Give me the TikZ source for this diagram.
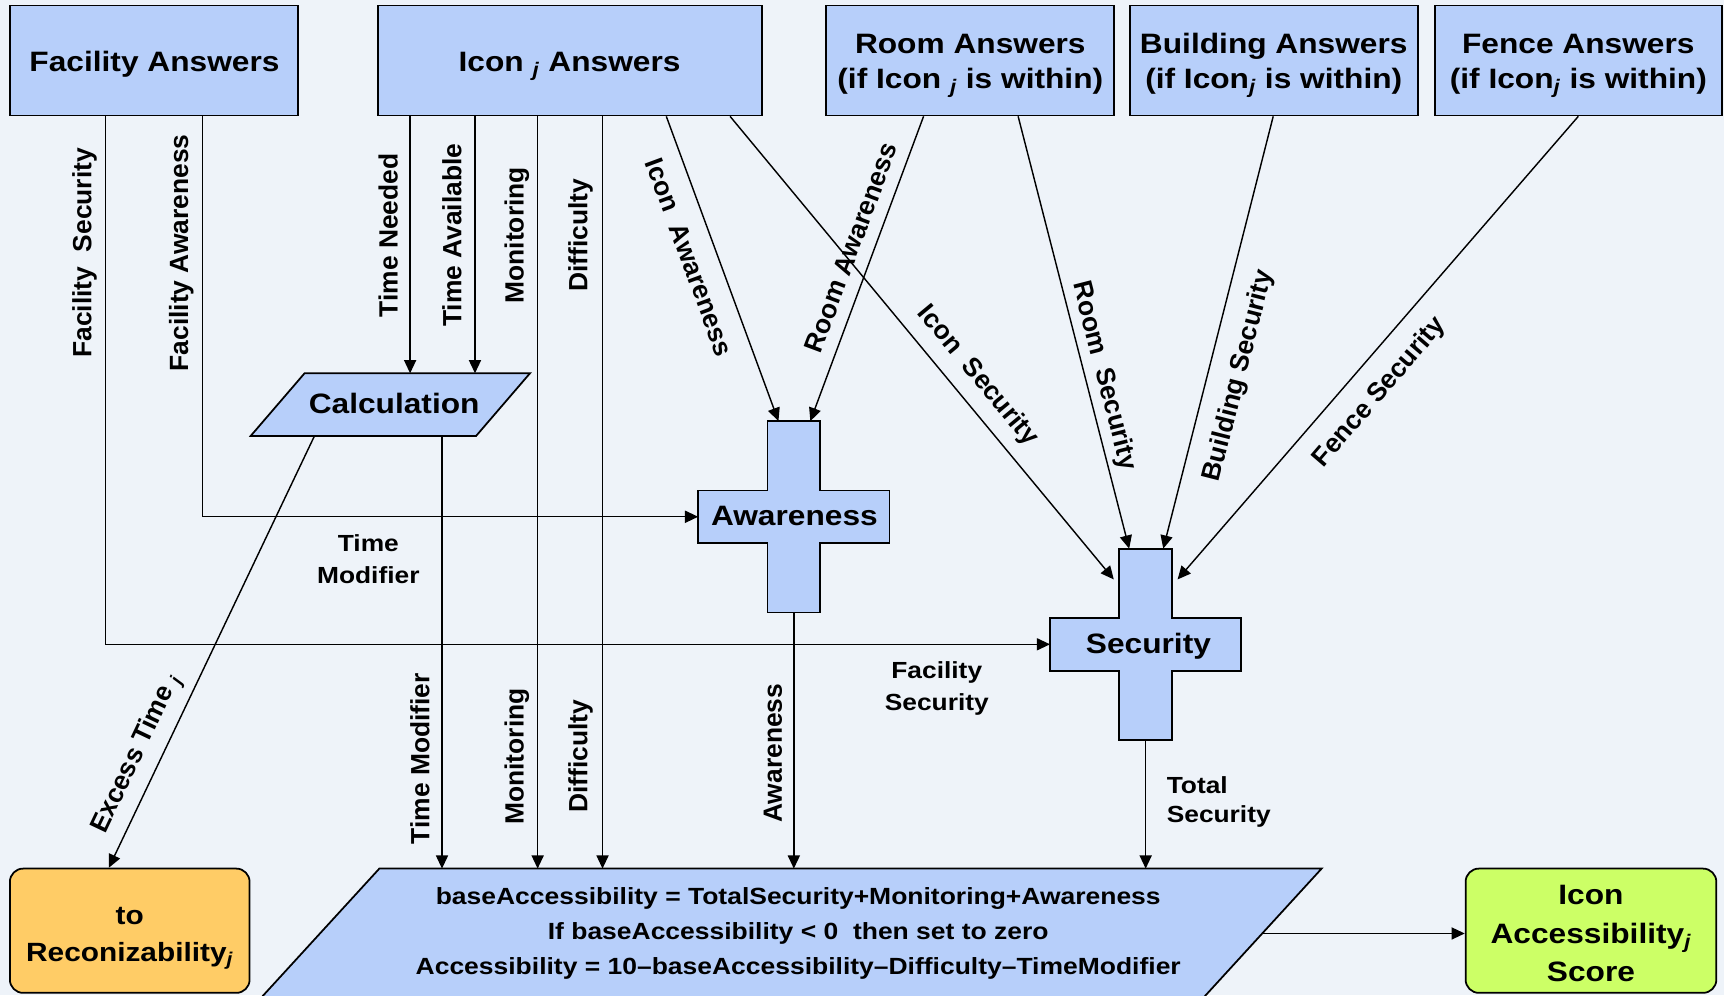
\documentclass[tikz,border=0pt]{standalone}
\usepackage{fontspec}
\setmainfont{Liberation Sans}
\newfontfamily\wide{Liberation Sans}[FakeStretch=1.13, Ligatures=TeX]
\usetikzlibrary{arrows.meta,calc}
\definecolor{boxblue}{RGB}{183,207,250}
\definecolor{recorange}{RGB}{255,204,102}
\definecolor{scoregreen}{RGB}{204,255,102}
\definecolor{bgcol}{RGB}{238,243,249}
\newcommand{\sj}{\textsubscript{\textit{j}}}
\newcommand{\ml}[1]{\begin{tabular}[t]{@{}c@{}}#1\end{tabular}}
\newcommand{\mlleft}[1]{\begin{tabular}[t]{@{}l@{}}#1\end{tabular}}
\newcommand{\drawcross}[2]{%
  \filldraw[fill=boxblue, line width=1.6pt, line join=miter]
    (#2.north west) -- (#2.north east) -- (#2.east |- #1.north) -- (#1.north east)
    -- (#1.south east) -- (#2.east |- #1.south) -- (#2.south east) -- (#2.south west)
    -- (#2.west |- #1.south) -- (#1.south west) -- (#1.north west) -- (#2.west |- #1.north) -- cycle;}
\tikzset{
  boxfont/.style={font=\wide\bfseries\fontsize{25.5}{32}\selectfont},
  boxtext/.style={boxfont, inner sep=0pt, anchor=base},
  hlbl/.style={font=\wide\bfseries\fontsize{21.2}{28.7}\selectfont, inner sep=0pt, anchor=base},
  lbl/.style={font=\bfseries\fontsize{24}{28}\selectfont, inner sep=0pt, align=center},
  topbox/.style={draw, line width=1.6pt, fill=boxblue, minimum height=100pt, inner sep=0pt},
  conn/.style={line width=1.3pt, -{Triangle[length=12pt,width=11pt]}},
  anchorbox/.style={inner sep=0pt, outer sep=0pt},
  endbox/.style={draw, line width=1.6pt, rounded corners=12pt, minimum height=113pt, inner sep=0pt},
  paraline/.style={fill=boxblue, line width=1.6pt, line join=miter},
}
\begin{document}
\begin{tikzpicture}[x=1pt,y=-1pt]
\useasboundingbox (0,0) rectangle (1568,905);
\clip (0,0) rectangle (1568,905);
\fill[bgcol] (0,0) rectangle (1568,905);

% x positions of vertical connectors
\coordinate (xFS) at (96,0);
\coordinate (xFA) at (184,0);
\coordinate (xTN) at (373,0);
\coordinate (xTA) at (432,0);
\coordinate (xMO) at (489,0);
\coordinate (xDI) at (548,0);
\coordinate (xTM) at (402,0);
\coordinate (xET) at (286,0);
\coordinate (xEE) at (99,0);

% top boxes
\node[topbox, minimum width=262pt] (fac) at (140,55) {};
\node[topbox, minimum width=349pt] (icon) at (518.5,55) {};
\node[topbox, minimum width=262pt] (room) at (882,55) {};
\node[topbox, minimum width=262pt] (bld) at (1159,55) {};
\node[topbox, minimum width=261pt] (fen) at (1435.5,55) {};

% calculation (parallelogram)
\node[anchorbox, minimum width=205pt, minimum height=57pt] (calc) at (379.5,368) {};
\filldraw[paraline] (calc.north west) -- (calc.north east) -- ([xshift=-49pt]calc.south east)
  -- ([xshift=-49pt]calc.south west) -- cycle;

% crosses
\node[anchorbox, minimum width=174pt, minimum height=48pt] (aw) at (722,470) {};
\node[anchorbox, minimum width=48pt, minimum height=174pt] (awv) at (722,470) {};
\drawcross{aw}{awv}
\node[anchorbox, minimum width=174pt, minimum height=48pt] (sec) at (1042,586) {};
\node[anchorbox, minimum width=48pt, minimum height=174pt] (secv) at (1042,586) {};
\drawcross{sec}{secv}

% bottom formula box (parallelogram, runs off the bottom edge)
\node[anchorbox, minimum width=857pt, minimum height=118pt] (bot) at (773.5,849) {};
\filldraw[paraline] (bot.north west) -- (bot.north east) -- ([xshift=-108pt]bot.south east)
  -- ([xshift=-108pt]bot.south west) -- cycle;

% end boxes
\node[endbox, fill=recorange, minimum width=218pt] (rec) at (118,846.5) {};
\node[endbox, fill=scoregreen, minimum width=228pt] (score) at (1447,846.5) {};

% connectors
\draw[conn] (fac.south -| xFS) |- (sec.west);
\draw[conn] (fac.south -| xFA) |- (aw.west);
\draw[conn] (icon.south -| xTN) -- (calc.north -| xTN);
\draw[conn] (icon.south -| xTA) -- (calc.north -| xTA);
\draw[conn] (icon.south -| xMO) -- (bot.north -| xMO);
\draw[conn] (icon.south -| xDI) -- (bot.north -| xDI);
\draw[conn] ([xshift=87.5pt]icon.south) -- ([xshift=-14pt]awv.north);
\draw[conn] ([xshift=145.5pt]icon.south) -- ([xshift=-5pt,yshift=-28pt]secv.north west);
\draw[conn] ([xshift=-42pt]room.south) -- ([xshift=15pt]awv.north);
\draw[conn] ([xshift=44pt]room.south) -- ([xshift=-15pt]secv.north);
\draw[conn] ([xshift=-1pt]bld.south) -- ([xshift=16pt]secv.north);
\draw[conn] (fen.south) -- ([xshift=5pt,yshift=-28pt]secv.north east);
\draw[conn] (calc.south -| xTM) -- (bot.north -| xTM);
\draw[conn] (calc.south -| xET) -- (rec.north -| xEE);
\draw[conn] (awv.south) -- (bot.north -| awv.south);
\draw[conn] (secv.south) -- (bot.north -| secv.south);
\draw[conn] ([xshift=-54pt]bot.east) -- (bot.east -| score.west);

% box texts
\node[boxtext] (facT) at (140.5,65.2) {Facility Answers};
\node[boxtext] (iconT) at (518,65.2) {Icon \sj{} Answers};
\node[boxtext] (roomT) at (882.5,48.5) {\ml{Room Answers\\(if Icon \sj{} is within)}};
\node[boxtext] (bldT) at (1158.5,48.5) {\ml{Building Answers\\(if Icon\sj{} is within)}};
\node[boxtext] (fenT) at (1435.5,48.5) {\ml{Fence Answers\\(if Icon\sj{} is within)}};
\node[boxtext] (calcT) at (358.5,375.9) {Calculation};
\node[boxtext] (awT) at (722.5,477.5) {Awareness};
\node[boxtext] (secT) at (1044.5,594) {Security};
\node[font=\wide\bfseries\fontsize{21.3}{31.8}\selectfont, inner sep=0pt, anchor=base] (formula) at (726,822.5)
  {\ml{baseAccessibility = TotalSecurity+Monitoring+Awareness\\
   If baseAccessibility < 0\ \ then set to zero\\
   Accessibility = 10--baseAccessibility--Difficulty--TimeModifier}};
\node[font=\wide\bfseries\fontsize{24}{34.3}\selectfont, inner sep=0pt, anchor=base] (recT) at (118,840.4) {\ml{to\\Reconizability\sj}};
\node[font=\wide\bfseries\fontsize{25.5}{35}\selectfont, inner sep=0pt, anchor=base] (scoreT) at (1447,823) {\ml{Icon\\Accessibility\sj\\Score}};

% connector labels
\node[lbl, rotate=90] (lFS) at (77,230) {Facility\ \ Security};
\node[lbl, rotate=90] (lFA) at (165,230) {Facility Awareness};
\node[lbl, rotate=90] (lTN) at (353,214) {Time Needed};
\node[lbl, rotate=90] (lTA) at (411,214) {Time Available};
\node[lbl, rotate=90] (lMO1) at (470,214) {Monitoring};
\node[lbl, rotate=90] (lDI1) at (528,214) {Difficulty};
\node[lbl, rotate=-69.7] (lIA) at (627,234) {Icon\ \ Awareness};
\node[lbl, rotate=69.5] (lRA) at (774,225) {Room Awareness};
\node[lbl, rotate=-50.3] (lIS) at (889,342) {Icon\ \ Security};
\node[lbl, rotate=-75.6] (lRS) at (1004,342) {Room\ \ Security};
\node[lbl, rotate=75.7] (lBS) at (1127,342) {Building Security};
\node[lbl, rotate=49.3] (lFeS) at (1255,357) {Fence Security};
\node[lbl, rotate=90] (lTM) at (382,690) {Time Modifier};
\node[lbl, rotate=90] (lMO2) at (470,688) {Monitoring};
\node[lbl, rotate=90] (lDI2) at (528,688) {Difficulty};
\node[lbl, rotate=90] (lAW) at (703,685) {Awareness};
\node[lbl, rotate=64.6] (lET) at (125,686) {Excess Time \sj};
\node[hlbl] (lTMh) at (335,501.8) {\ml{Time\\Modifier}};
\node[hlbl, font=\wide\bfseries\fontsize{21.2}{29}\selectfont] (lFSh) at (852,617) {\ml{Facility\\Security}};
\node[hlbl, anchor=base west, font=\wide\bfseries\fontsize{21.2}{26.5}\selectfont] (lTS) at (1061,721.5) {\mlleft{Total\\Security}};
\end{tikzpicture}
\end{document}
